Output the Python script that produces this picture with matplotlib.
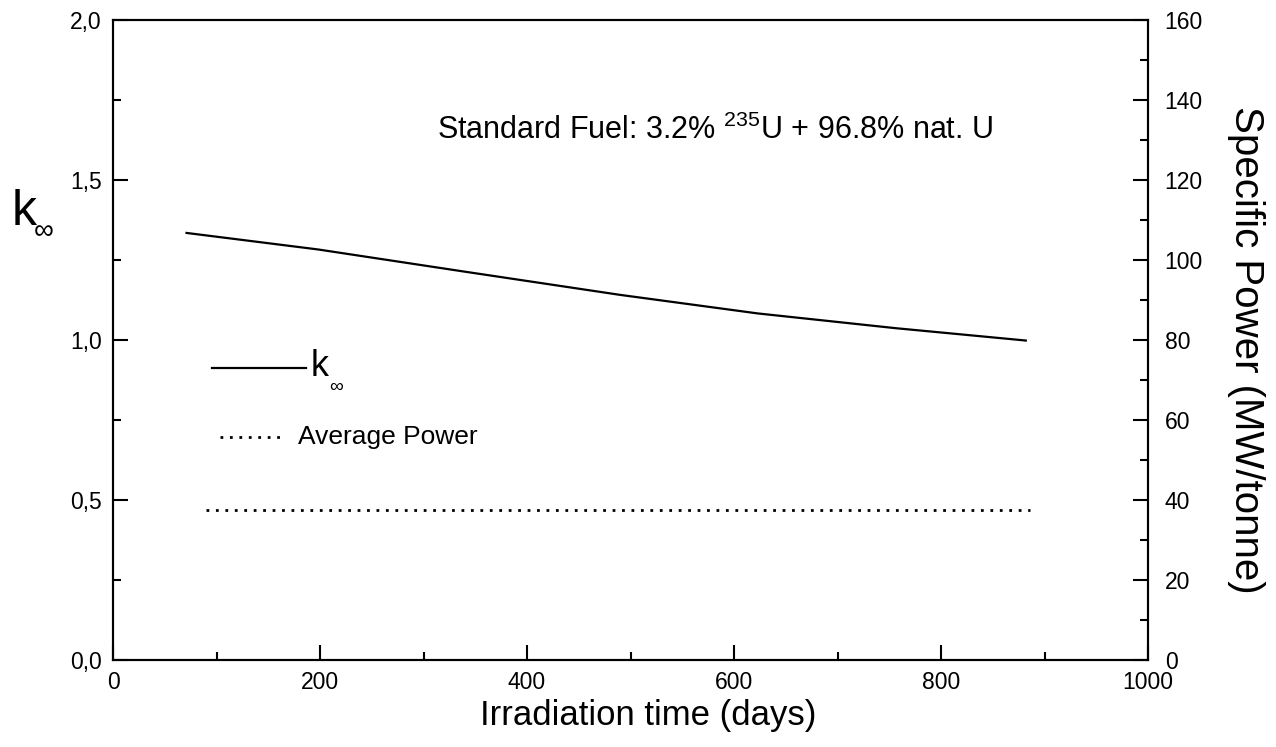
import matplotlib
matplotlib.use("Agg")
import matplotlib.pyplot as plt
from matplotlib.ticker import MultipleLocator, FuncFormatter

plt.rcParams['font.family'] = ['Liberation Sans', 'DejaVu Sans']
plt.rcParams['mathtext.fontset'] = 'custom'
plt.rcParams['mathtext.rm'] = 'Liberation Sans'
plt.rcParams['mathtext.it'] = 'Liberation Sans:italic'
plt.rcParams['mathtext.bf'] = 'Liberation Sans:bold'

# ---- data ----
days_k = [70, 198, 341, 490, 623, 756, 883]
k_inf = [1.335, 1.283, 1.213, 1.141, 1.083, 1.037, 0.998]
days_p = [90, 886]
power = [37.5, 37.5]

x_ticks = [0, 200, 400, 600, 800, 1000]
left_ticks = [0.0, 0.5, 1.0, 1.5, 2.0]
right_ticks = [0, 20, 40, 60, 80, 100, 120, 140, 160]

W, H = 1276, 747
fig = plt.figure(figsize=(W / 100, H / 100), dpi=100)
ax = fig.add_axes([113 / W, 1 - 660 / H, (1148 - 113) / W, (660 - 20) / H])
ax2 = ax.twinx()

ax.plot(days_k, k_inf, color='black', lw=1.6, solid_capstyle='butt')
ax2.plot(days_p, power, color='black', lw=2.0, linestyle=(0, (1.0, 2.4)))

ax.set_xlim(0, 1000)
ax.set_ylim(0, 2.0)
ax2.set_ylim(0, 160)

ax.set_xticks(x_ticks)
ax.xaxis.set_minor_locator(MultipleLocator(100))
ax.set_yticks(left_ticks)
ax.yaxis.set_minor_locator(MultipleLocator(0.25))
ax.yaxis.set_major_formatter(FuncFormatter(lambda v, p: f"{v:.1f}".replace('.', ',')))
ax2.set_yticks(right_ticks)
ax2.yaxis.set_minor_locator(MultipleLocator(10))

for a in (ax, ax2):
    for s in a.spines.values():
        s.set_linewidth(1.5)

ax.tick_params(axis='both', which='both', direction='in', top=False, right=False,
               width=1.5, labelsize=16.5)
ax.tick_params(axis='both', which='major', length=11)
ax.tick_params(axis='both', which='minor', length=6)
ax.tick_params(axis='y', pad=8)
ax.tick_params(axis='x', pad=8)
ax2.tick_params(axis='y', which='both', direction='in', width=1.5, labelsize=16.5, pad=12)
ax2.tick_params(axis='y', which='major', length=11)
ax2.tick_params(axis='y', which='minor', length=6)

# annotation
ax.text(313, 1.656, r"Standard Fuel: 3.2% $^{235}$U + 96.8% nat. U", fontsize=22,
        ha='left', va='center')

# manual legend
def axfx(px):
    return (px - 113) / 1035
def axfy(py):
    return (660 - py) / 640

ax.plot([axfx(212), axfx(306)], [axfy(368), axfy(368)], transform=ax.transAxes,
        color='black', lw=1.6, clip_on=False)
ax.text(axfx(311), axfy(367), "k", transform=ax.transAxes, fontsize=26,
        ha='left', va='center')
ax.text(axfx(329), axfy(387), "\u221e", transform=ax.transAxes, fontsize=14,
        ha='left', va='center')
ax.plot([axfx(220), axfx(284)], [axfy(437), axfy(437)], transform=ax.transAxes,
        color='black', lw=2.0, linestyle=(0, (1.0, 2.4)), clip_on=False)
ax.text(axfx(298), axfy(437), "Average Power", transform=ax.transAxes, fontsize=19,
        ha='left', va='center')

# axis labels
fig.text(12 / W, 1 - 225 / H, "k", fontsize=36, ha='left', va='baseline')
fig.text(34 / W, 1 - 232 / H, "\u221e", fontsize=20, ha='left', va='center')
fig.text(648 / W, 1 - 716 / H, "Irradiation time (days)", fontsize=25,
         ha='center', va='center')
fig.text(1246 / W, 1 - 350 / H, "Specific Power (MW/tonne)", fontsize=29,
         ha='center', va='center', rotation=270)

fig.savefig("out.png", dpi=100)
